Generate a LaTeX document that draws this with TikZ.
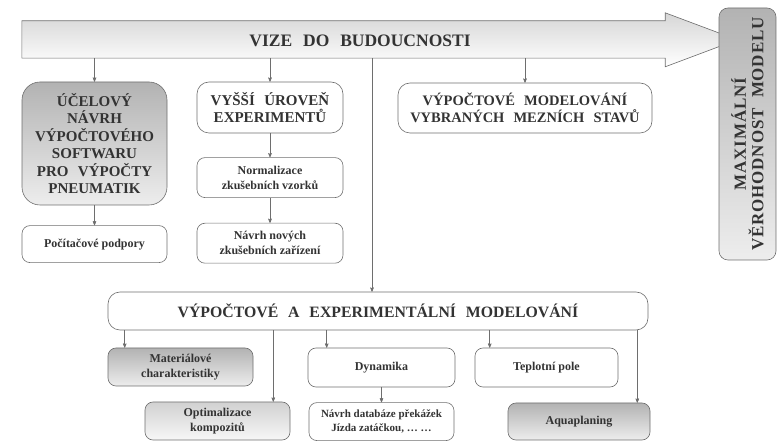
\documentclass[tikz,border=0pt]{standalone}
\usepackage{fontspec}
\setmainfont{Liberation Serif}
\newfontfamily\widefont{Liberation Serif}[WordSpace=2.5]
\newfontfamily\spacedfont{Liberation Serif}[WordSpace=2, LetterSpace=5]
\usetikzlibrary{arrows, positioning}
\definecolor{linegray}{HTML}{6E6E6E}
\definecolor{textgray}{HTML}{333333}
\tikzset{
    to/.style       = {->, >=stealth', semithick, draw=linegray},
    bigarrow/.style = {draw=linegray, semithick, top color=black!16, bottom color=white},
    bigbox/.style   = {draw=linegray, semithick, rectangle, rounded corners=12pt, align=center, inner sep=0pt,
                       font=\widefont\bfseries\fontsize{15}{17.5}\selectfont},
    smallbox/.style = {draw=linegray, semithick, rectangle, rounded corners=8pt, align=center, inner sep=0pt,
                       font=\bfseries\fontsize{12}{15}\selectfont},
    grayfill/.style = {top color=black!30, bottom color=black!7},
    lightfill/.style= {top color=black!18, bottom color=black!3}
}

\begin{document}
\begin{tikzpicture}[x=1pt, y=1pt, every node/.style={text=textgray}]
	\useasboundingbox (0,0) rectangle (777,442);
	% vize
	\node (vize) [inner sep=0pt, minimum width=643, minimum height=37] at (343.5,402.5) {};
	\draw [bigarrow] (vize.north west) -- (vize.north east) -- ++(0,8) -- ++(72,-27) -- ++(-72,-27) -- (vize.south east) -- (vize.south west) -- cycle;
	\node (vizetext) [font=\widefont\bfseries\fontsize{17.5}{19}\selectfont] at (360,401) {VIZE DO BUDOUCNOSTI};
	\node (maxim) [bigbox, grayfill, rounded corners=9pt, rotate=90, minimum width=252, minimum height=57,
	               font=\spacedfont\bfseries\fontsize{17}{17.5}\selectfont] at (747.5,308) {MAXIMÁLNÍ\\VĚROHODNOST MODELU};

	% horni rada
	\node (ucel)  [bigbox, grayfill, rounded corners=18pt, minimum width=145, minimum height=123] at (94.5,298.5)
	              {ÚČELOVÝ\\NÁVRH\\VÝPOČTOVÉHO\\SOFTWARU\\PRO VÝPOČTY\\PNEUMATIK};
	\node (pocit) [smallbox, minimum width=145, minimum height=37, below=20 of ucel] {Počítačové podpory};
	\node (vyssi) [bigbox, minimum width=146, minimum height=51] at (270,334.5) {VYŠŠÍ ÚROVEŇ\\EXPERIMENTŮ};
	\node (norm)  [smallbox, minimum width=146, minimum height=40, below=24 of vyssi] {Normalizace\\zkušebních vzorků};
	\node (navrh) [smallbox, minimum width=146, minimum height=40, below=25 of norm] {Návrh nových\\zkušebních zařízení};
	\node (mezni) [bigbox, minimum width=254, minimum height=50, font=\widefont\bfseries\fontsize{14.5}{17.5}\selectfont]
	              at (525,334) {VÝPOČTOVÉ MODELOVÁNÍ\\VYBRANÝCH MEZNÍCH STAVŮ};

	% dolni rada
	\node (vypexp) [bigbox, minimum width=540, minimum height=38, font=\widefont\bfseries\fontsize{15.8}{18}\selectfont]
	               at (378,131) {VÝPOČTOVÉ A EXPERIMENTÁLNÍ MODELOVÁNÍ};
	\node (mater) [smallbox, grayfill, minimum width=145, minimum height=38] at (180.5,75) {Materiálové\\charakteristiky};
	\node (optim) [smallbox, lightfill, minimum width=145, minimum height=38] at (217.5,21) {Optimalizace\\kompozitů};
	\node (dyn)   [smallbox, minimum width=147, minimum height=39] at (381.5,74.5) {Dynamika};
	\node (datab) [smallbox, minimum width=145, minimum height=38, below=15 of dyn, font=\bfseries\fontsize{11}{14}\selectfont]
	              {Návrh databáze překážek\\Jízda zatáčkou, \dots\ \dots};
	\node (tepl)  [smallbox, minimum width=143, minimum height=39] at (546.5,74.5) {Teplotní pole};
	\node (aqua)  [smallbox, grayfill, minimum width=142, minimum height=37] at (579,20.5) {Aquaplaning};

	\draw [to] (vize.south -| ucel.north) -- (ucel);
	\draw [to] (ucel) -- (pocit);
	\draw [to] (vize.south -| vyssi.north) -- (vyssi);
	\draw [to] (vyssi) -- (norm);
	\draw [to] (norm) -- (navrh);
	\draw [to] (vize.south -| mezni.north) -- (mezni);
	\draw [to] ([xshift=-6]vize.south -| vypexp.north) -- ([xshift=-6]vypexp.north);
	\draw [to] ([xshift=17]vypexp.south -| mater.west) -- ([xshift=17]mater.north west);
	\draw [to] ([xshift=-17]vypexp.south -| optim.east) -- ([xshift=-17]optim.north east);
	\draw [to] ([xshift=19]vypexp.south -| dyn.west) -- ([xshift=19]dyn.north west);
	\draw [to] (dyn) -- (datab);
	\draw [to] ([xshift=15]vypexp.south -| tepl.west) -- ([xshift=15]tepl.north west);
	\draw [to] ([xshift=-13]vypexp.south -| aqua.east) -- ([xshift=-13]aqua.north east);
\end{tikzpicture}
\end{document}
